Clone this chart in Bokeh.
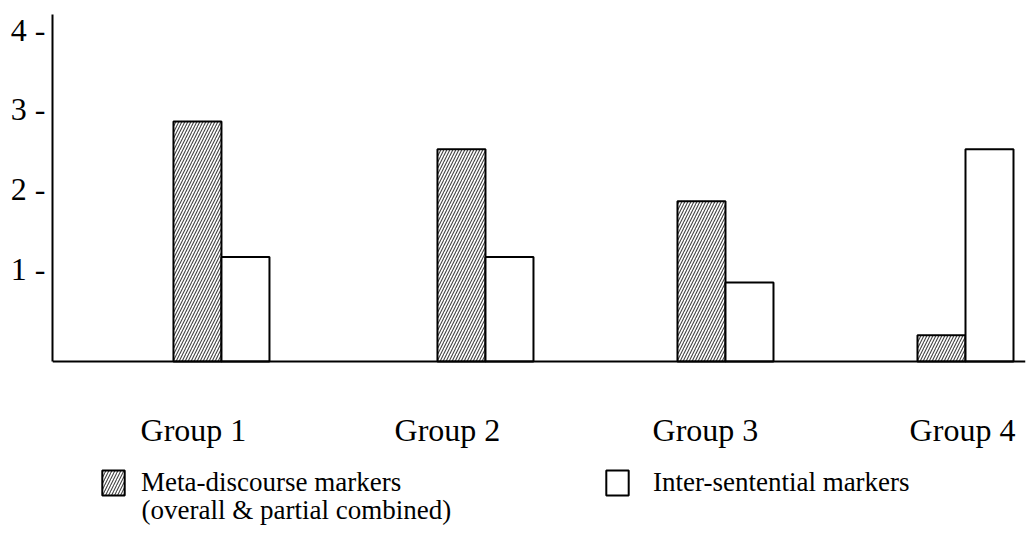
from bokeh.plotting import figure
from bokeh.models import (ColumnDataSource, Range1d, FixedTicker, Label, Legend, LegendItem, Span)
from bokeh.embed import file_html
from bokeh.resources import INLINE

# ---- data ----
groups = ["Group 1", "Group 2", "Group 3", "Group 4"]
group_pos = [0.9, 2.0, 3.0, 4.0]
meta_discourse = [2.85, 2.5, 1.85, 0.17]
inter_sentential = [1.15, 1.15, 0.83, 2.5]
y_ticks = [1, 2, 3, 4]
y_tick_labels = ["1 -", "2 -", "3 -", "4 -"]
legend_labels = ["Meta-discourse markers", "Inter-sentential markers"]
legend_sub = "(overall & partial combined)"

# ---- style ----
SERIF = "Liberation Serif"
BASE = -0.16
TOP = 4.19
BAR_W = 0.2
LABEL_DX = [-28, -38, -20, -3]   # pixel nudges of the group labels

p = figure(width=1027, height=533, output_backend="svg", toolbar_location=None,
           x_range=Range1d(0.196, 4.25), y_range=Range1d(-2.315, TOP),
           min_border_left=52, min_border_right=2, min_border_top=14, min_border_bottom=0,
           background_fill_color="white", border_fill_color="white")
p.outline_line_color = None
p.xgrid.visible = False
p.ygrid.visible = False
p.xaxis.visible = False

src = ColumnDataSource(dict(
    meta_x=[g - BAR_W / 2 for g in group_pos],
    inter_x=[g + BAR_W / 2 for g in group_pos],
    meta=meta_discourse,
    inter=inter_sentential,
))

r_meta = p.vbar(x="meta_x", top="meta", bottom=BASE, width=BAR_W, source=src,
                fill_color="white", line_color="black", line_width=2,
                hatch_pattern="/", hatch_color="#444444", hatch_weight=1.1, hatch_scale=6)
r_inter = p.vbar(x="inter_x", top="inter", bottom=BASE, width=BAR_W, source=src,
                 fill_color="white", line_color="black", line_width=2)

# x axis line (baseline)
p.add_layout(Span(location=BASE, dimension="width", line_color="black", line_width=2))

# y axis
ya = p.yaxis[0]
ya.bounds = (BASE, TOP)
ya.ticker = FixedTicker(ticks=y_ticks)
ya.major_label_overrides = {t: l for t, l in zip(y_ticks, y_tick_labels)}
ya.major_tick_line_color = None
ya.minor_tick_line_color = None
ya.axis_line_color = "black"
ya.axis_line_width = 2
ya.major_label_text_font = SERIF
ya.major_label_text_font_size = "32px"
ya.major_label_text_color = "black"
ya.major_label_standoff = 1

# group labels
for g, name, dx in zip(group_pos, groups, LABEL_DX):
    p.add_layout(Label(x=g, y=104, y_units="screen", x_offset=dx, text=name,
                       text_align="center", text_baseline="middle",
                       text_font=SERIF, text_font_size="32px", text_color="black"))

# legends
def make_legend(label, renderer, x, y, standoff):
    return Legend(items=[LegendItem(label=label, renderers=[renderer])],
                  location=(x, y), orientation="vertical",
                  glyph_width=28, glyph_height=31, label_standoff=standoff,
                  label_text_font=SERIF, label_text_font_size="27px",
                  label_text_color="black",
                  padding=0, margin=0, spacing=0,
                  border_line_color=None, background_fill_alpha=0)

p.add_layout(make_legend(legend_labels[0], r_meta, 47, 35, 14))
p.add_layout(make_legend(legend_labels[1], r_inter, 551, 35, 22))
p.add_layout(Label(x=89, y=24, x_units="screen", y_units="screen", text=legend_sub,
                   text_align="left", text_baseline="middle",
                   text_font=SERIF, text_font_size="27px", text_color="black"))

open("out.html", "w").write(file_html(p, INLINE))
